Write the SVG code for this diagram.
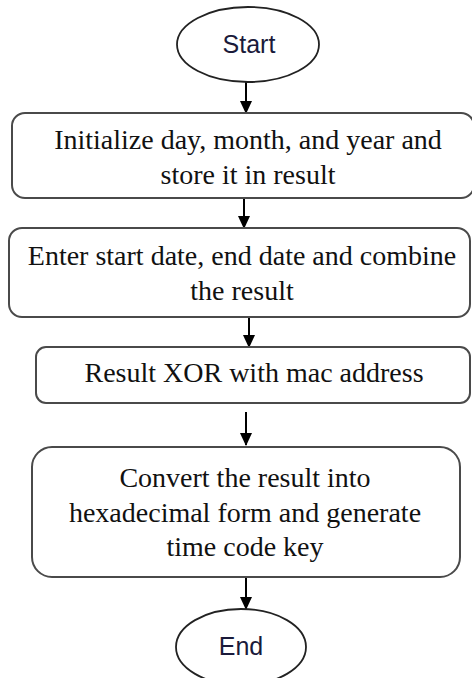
<svg xmlns="http://www.w3.org/2000/svg" width="472" height="678" viewBox="0 0 472 678">
<style>
.box{fill:#fff;stroke:#4a4a4a;stroke-width:2}
.term{fill:#fff;stroke:#222;stroke-width:1.8}
.t{font-family:"Liberation Serif","Times New Roman",serif;font-size:28px;fill:#111;text-anchor:middle}
.s{font-family:"Liberation Sans",Arial,sans-serif;font-size:25px;fill:#1a1a3a;text-anchor:middle}
.c{stroke:#000;stroke-width:2;fill:none;marker-end:url(#ah)}
</style>
<defs>
<marker id="ah" markerWidth="13" markerHeight="14" refX="13" refY="6.5" orient="auto" markerUnits="userSpaceOnUse" viewBox="0 0 14 13">
<path d="M0,0 L14,6.5 L0,13 Z" fill="#000"/>
</marker>
</defs>
<rect width="472" height="678" fill="#fff"/>
<g id="connectors">
<line class="c" x1="246" y1="82" x2="246" y2="113"/>
<line class="c" x1="244" y1="198" x2="244" y2="228"/>
<line class="c" x1="249" y1="317" x2="249" y2="347"/>
<line class="c" x1="246" y1="412" x2="246" y2="445"/>
<line class="c" x1="246" y1="577" x2="246" y2="609"/>
</g>
<g id="start">
<ellipse class="term" cx="248" cy="44.5" rx="71" ry="37.5"/>
<text class="s" x="249" y="53">Start</text>
</g>
<g id="init">
<rect class="box" x="12" y="113" width="462" height="85" rx="13"/>
<text class="t" x="248" y="149">Initialize day, month, and year and</text>
<text class="t" x="248" y="184">store it in result</text>
</g>
<g id="enter">
<rect class="box" x="9" y="228" width="461" height="89" rx="13"/>
<text class="t" x="242" y="265">Enter start date, end date and combine</text>
<text class="t" x="242" y="300">the result</text>
</g>
<g id="xor">
<rect class="box" x="36" y="347" width="434" height="56" rx="10"/>
<text class="t" x="254" y="382">Result XOR with mac address</text>
</g>
<g id="convert">
<rect class="box" x="32" y="447" width="428" height="130" rx="20"/>
<text class="t" x="245" y="487">Convert the result into</text>
<text class="t" x="245" y="522">hexadecimal form and generate</text>
<text class="t" x="245" y="556">time code key</text>
</g>
<g id="end">
<ellipse class="term" cx="241" cy="647" rx="65" ry="38"/>
<text class="s" x="241" y="655">End</text>
</g>
</svg>
